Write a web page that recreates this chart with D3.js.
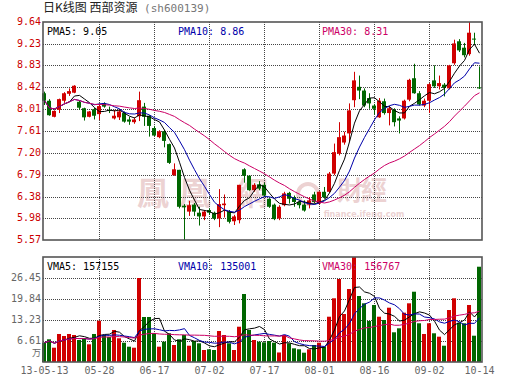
<!DOCTYPE html>
<html>
<head>
<meta charset="utf-8">
<script src="https://cdn.jsdelivr.net/npm/d3@7"></script>
<style>
body { margin: 0; background: #fff; }
text { font-family: "DejaVu Sans Mono", monospace; font-size: 10px; }
</style>
</head>
<body>
<script>
// trading days (sh600139, 2013)
var dates = ["05-13","05-14","05-15","05-16","05-17","05-20","05-21","05-22","05-23","05-24",
    "05-27","05-28","05-29","05-30","05-31","06-03","06-04","06-05","06-06","06-07",
    "06-13","06-14","06-17","06-18","06-19","06-20","06-21","06-24","06-25","06-26",
    "06-27","06-28","07-01","07-02","07-03","07-04","07-05","07-08","07-09","07-10",
    "07-11","07-12","07-15","07-16","07-17","07-18","07-19","07-22","07-23","07-24",
    "07-25","07-26","07-29","07-30","07-31","08-01","08-02","08-05","08-06","08-07",
    "08-08","08-09","08-12","08-13","08-14","08-15","08-16","08-19","08-20","08-21",
    "08-22","08-23","08-26","08-27","08-28","08-29","08-30","09-02","09-03","09-04",
    "09-05","09-06","09-09","09-10","09-11","09-12","09-13","10-14"];

var opens = [8.31,8.17,7.87,8.00,8.17,8.30,8.32,8.15,8.03,7.87,
    8.01,7.92,8.12,8.00,7.84,7.86,7.94,7.82,7.77,7.88,
    8.06,7.89,7.66,7.49,7.60,7.36,6.78,6.88,6.21,6.10,
    6.23,6.08,6.01,6.13,6.08,5.97,6.22,6.10,5.92,5.94,
    6.89,6.77,6.50,6.61,6.60,6.34,6.23,5.97,6.22,6.45,
    6.37,6.28,6.23,6.23,6.42,6.25,6.47,6.47,6.81,7.18,
    7.39,7.56,8.18,8.43,8.36,8.22,8.08,7.86,8.16,7.94,
    8.00,7.84,7.84,8.19,8.59,8.31,8.08,8.17,8.55,8.44,
    8.47,8.40,8.87,9.28,9.16,9.04,9.33,8.42];

var highs = [8.34,8.20,7.99,8.21,8.33,8.40,8.46,8.18,8.04,7.98,
    8.04,8.12,8.14,8.06,8.00,8.00,7.97,7.87,7.86,8.34,
    8.13,7.90,7.70,7.62,7.62,7.37,7.00,6.88,6.24,6.30,
    6.26,6.19,6.13,6.16,6.10,6.52,6.42,6.13,6.04,6.60,
    6.91,6.78,6.63,6.67,6.64,6.35,6.25,6.22,6.47,6.47,
    6.40,6.31,6.31,6.37,6.47,6.48,6.56,6.84,7.37,7.77,
    7.59,8.12,8.71,8.64,8.40,8.31,8.11,8.22,8.21,8.07,
    8.03,7.88,8.19,8.58,8.86,8.35,8.21,8.50,8.83,8.64,
    8.50,8.84,9.31,9.32,9.25,9.64,9.44,8.81];

var lows = [8.09,7.89,7.86,7.94,8.13,8.26,8.31,8.00,7.80,7.86,
    7.82,7.81,8.04,7.94,7.82,7.81,7.76,7.72,7.74,7.79,
    7.70,7.50,7.51,7.47,7.30,6.99,6.77,6.16,5.57,6.02,
    6.02,5.84,5.94,6.04,5.94,5.81,5.99,5.88,5.85,5.88,
    6.64,6.49,6.47,6.50,6.37,6.17,5.94,5.94,6.20,6.25,
    6.19,6.16,6.10,6.16,6.25,6.23,6.34,6.45,6.78,7.15,
    7.35,7.40,8.05,8.20,8.05,8.02,7.91,7.85,7.91,7.71,
    7.69,7.56,7.82,8.16,8.30,8.08,8.05,7.94,8.41,8.38,
    8.25,8.38,8.84,9.08,8.98,9.01,9.22,8.39];

var closes = [8.17,7.90,7.98,8.20,8.31,8.35,8.45,8.04,7.86,7.97,
    7.89,8.07,8.06,7.99,7.89,7.97,7.78,7.78,7.82,8.18,
    7.87,7.70,7.52,7.60,7.42,7.01,6.89,6.19,6.18,6.22,
    6.10,6.01,6.10,6.08,5.97,6.24,6.25,5.91,6.01,6.60,
    6.77,6.50,6.60,6.53,6.40,6.19,5.96,6.19,6.44,6.34,
    6.28,6.22,6.12,6.31,6.28,6.47,6.37,6.81,7.21,7.49,
    7.52,7.99,8.55,8.36,8.08,8.12,8.02,8.17,7.94,8.03,
    7.77,7.80,8.17,8.56,8.31,8.10,8.17,8.48,8.44,8.50,
    8.41,8.83,9.24,9.11,9.02,9.44,9.32,8.40];

// volume, 万手
var volumes = [6.08,7.15,4.50,8.82,8.19,8.82,8.50,6.93,7.46,5.57,
    8.82,13.0,8.50,7.87,10.08,7.46,6.08,4.82,4.50,26.45,
    14.17,14.17,9.04,4.82,6.39,9.04,5.35,7.15,8.50,5.13,
    6.61,5.89,3.78,4.00,3.78,9.76,8.50,5.89,3.78,11.11,
    21.41,10.08,6.93,6.39,6.20,6.61,6.08,3.00,8.50,5.89,
    4.31,4.00,2.93,4.00,5.35,6.08,4.82,14.26,20.06,26.13,
    15.11,22.98,33.06,20.78,18.48,12.91,17.95,14.26,13.22,17.10,
    9.35,10.61,15.52,18.48,22.13,12.19,8.82,12.19,9.04,7.97,
    5.13,16.37,20.06,12.37,12.19,17.95,8.28,30.0];

var priceTicks = ["5.57","5.98","6.38","6.79","7.20","7.61","8.01","8.42","8.83","9.23","9.64"];
var volumeTicks = ["6.61","13.23","19.84","26.45"];
var tickDates = ["05-13","05-28","06-17","07-02","07-17","08-01","08-16","09-02","10-14"];
var tickLabels = ["13-05-13","05-28","06-17","07-02","07-17","08-01","08-16","09-02","10-14"];

var pmaNames = ["PMA5: 9.05", "PMA10: 8.86", "PMA30: 8.31"];
var vmaNames = ["VMA5: 157155", "VMA10: 135001", "VMA30: 156767"];
var maDays = [5, 10, 30];
var maColors = ["#000000", "#0000aa", "#cc0066"];

var up = "#d00000", down = "#006600";

var w = 530, h = 391;
var svg = d3.select("body").append("svg")
    .attr("width", w)
    .attr("height", h);

var x = d3.scaleBand().domain(dates).range([41.5, 481.5])
    .paddingInner(0.2).paddingOuter(0.1);
var bw = x.bandwidth();
var cx = function(d) { return Math.round(x(d)) + 2.5; };

var y = d3.scaleLinear().domain([5.57, 9.64]).range([240, 22]);
var yv = d3.scaleLinear().domain([0, 33.06]).range([362, 257]);

function movingAvg(values, n) {
    return values.map(function(d, i) {
        return d3.mean(values.slice(Math.max(0, i - n + 1), i + 1));
    });
}

// title
var title = svg.append("text").attr("x", 43).attr("y", 9)
    .attr("dominant-baseline", "middle");
title.append("tspan")
    .style("font-family", "'Noto Sans CJK SC'")
    .style("font-size", "12px")
    .attr("fill", "#222")
    .text("日K线图 西部资源");
title.append("tspan")
    .style("font-size", "11px")
    .attr("fill", "#777")
    .text(" (sh600139)");

// watermark
var wm = svg.append("g").attr("fill", "#ecd2d2");
wm.selectAll("text.wm")
    .data([["鳳", 153, 32], ["凰", 195, 32], ["網", 252, 32], ["財", 350, 26], ["經", 374, 26]])
    .enter().append("text")
    .attr("x", function(d) { return d[1]; })
    .attr("y", function(d) { return d[2] > 30 ? 196 : 193; })
    .attr("text-anchor", "middle")
    .attr("dominant-baseline", "middle")
    .style("font-family", "'Noto Sans CJK TC'")
    .style("font-size", function(d) { return d[2] + "px"; })
    .style("font-weight", "700")
    .text(function(d) { return d[0]; });
wm.append("circle").attr("cx", 308).attr("cy", 194).attr("r", 10)
    .attr("fill", "none").attr("stroke", "#ecd2d2").attr("stroke-width", 4);
wm.append("text").attr("x", 364).attr("y", 214).attr("text-anchor", "middle")
    .attr("dominant-baseline", "middle")
    .style("font-family", "'DejaVu Sans'").style("font-size", "8px").style("font-weight", "bold")
    .text("finance.ifeng.com");

// grid
var grid = svg.append("g")
    .attr("stroke", "#444")
    .attr("stroke-dasharray", "1,1");

grid.selectAll("line.ph")
    .data(priceTicks.slice(1, -1))
    .enter().append("line")
    .attr("x1", 43).attr("x2", 482)
    .attr("y1", function(d) { return Math.round(y(+d)) + 0.5; })
    .attr("y2", function(d) { return Math.round(y(+d)) + 0.5; });

grid.selectAll("line.vh")
    .data(volumeTicks)
    .enter().append("line")
    .attr("x1", 43).attr("x2", 482)
    .attr("y1", function(d) { return Math.round(yv(+d)) + 0.5; })
    .attr("y2", function(d) { return Math.round(yv(+d)) + 0.5; });

var inner = tickDates.slice(1, -1);
grid.selectAll("line.pv")
    .data(inner)
    .enter().append("line")
    .attr("x1", cx).attr("x2", cx)
    .attr("y1", 22).attr("y2", 240);
grid.selectAll("line.vv")
    .data(inner)
    .enter().append("line")
    .attr("x1", cx).attr("x2", cx)
    .attr("y1", 257).attr("y2", 362);

// candles
var candles = svg.append("g").selectAll("g")
    .data(dates)
    .enter().append("g")
    .attr("fill", function(d, i) { return closes[i] >= opens[i] ? up : down; })
    .attr("stroke", function(d, i) { return closes[i] >= opens[i] ? up : down; });

candles.append("line")
    .attr("x1", cx).attr("x2", cx)
    .attr("y1", function(d, i) { return y(highs[i]); })
    .attr("y2", function(d, i) { return y(lows[i]); });

candles.append("rect")
    .attr("stroke", "none")
    .attr("x", function(d) { return Math.round(x(d)); })
    .attr("width", bw)
    .attr("y", function(d, i) { return y(Math.max(opens[i], closes[i])); })
    .attr("height", function(d, i) {
        return Math.max(1, Math.abs(y(opens[i]) - y(closes[i])));
    });

// volume bars
svg.append("g").selectAll("rect")
    .data(dates)
    .enter().append("rect")
    .attr("x", function(d) { return Math.round(x(d)); })
    .attr("width", bw)
    .attr("y", function(d, i) { return yv(volumes[i]); })
    .attr("height", function(d, i) { return 362 - yv(volumes[i]); })
    .attr("fill", function(d, i) { return closes[i] >= opens[i] ? up : down; });

// moving averages
maDays.forEach(function(n, k) {
    var pm = movingAvg(closes, n);
    var vm = movingAvg(volumes, n);
    svg.append("path")
        .attr("d", d3.line().x(function(d, i) { return cx(dates[i]); }).y(function(d) { return y(d); })(pm))
        .attr("fill", "none").attr("stroke", maColors[k]).attr("stroke-width", 1);
    svg.append("path")
        .attr("d", d3.line().x(function(d, i) { return cx(dates[i]); }).y(function(d) { return yv(d); })(vm))
        .attr("fill", "none").attr("stroke", maColors[k]).attr("stroke-width", 1);
});

// frames
svg.append("rect").attr("x", 43).attr("y", 22).attr("width", 439).attr("height", 218)
    .attr("fill", "none").attr("stroke", "#555").attr("stroke-width", 1.6);
svg.append("rect").attr("x", 43).attr("y", 257).attr("width", 439).attr("height", 105)
    .attr("fill", "none").attr("stroke", "#555").attr("stroke-width", 1.6);

// legends
var legendX = [47, 178, 322];
svg.selectAll("text.pma")
    .data(pmaNames)
    .enter().append("text")
    .attr("x", function(d, i) { return legendX[i]; })
    .attr("y", 32)
    .attr("dominant-baseline", "middle")
    .attr("fill", function(d, i) { return maColors[i]; })
    .text(function(d) { return d; });

svg.selectAll("text.vma")
    .data(vmaNames)
    .enter().append("text")
    .attr("x", function(d, i) { return legendX[i]; })
    .attr("y", 267)
    .attr("dominant-baseline", "middle")
    .attr("fill", function(d, i) { return maColors[i]; })
    .text(function(d) { return d; });

// axis labels
svg.selectAll("text.py")
    .data(priceTicks)
    .enter().append("text")
    .attr("x", 41)
    .attr("y", function(d) { return y(+d); })
    .attr("text-anchor", "end")
    .attr("dominant-baseline", "middle")
    .attr("fill", "#cc0000")
    .text(function(d) { return d; });

svg.selectAll("text.vy")
    .data(volumeTicks)
    .enter().append("text")
    .attr("x", 41)
    .attr("y", function(d) { return yv(+d); })
    .attr("text-anchor", "end")
    .attr("dominant-baseline", "middle")
    .attr("fill", "#666")
    .text(function(d) { return d; });

svg.append("text")
    .attr("x", 41).attr("y", 354)
    .attr("text-anchor", "end")
    .attr("dominant-baseline", "middle")
    .attr("fill", "#666")
    .style("font-family", "'Noto Sans CJK SC'")
    .style("font-size", "9px")
    .text("万");

svg.selectAll("text.dx")
    .data(tickDates)
    .enter().append("text")
    .attr("x", function(d) { return cx(d); })
    .attr("y", 371)
    .attr("text-anchor", "middle")
    .attr("dominant-baseline", "middle")
    .attr("fill", "#666")
    .text(function(d, i) { return tickLabels[i]; });
</script>
</body>
</html>
